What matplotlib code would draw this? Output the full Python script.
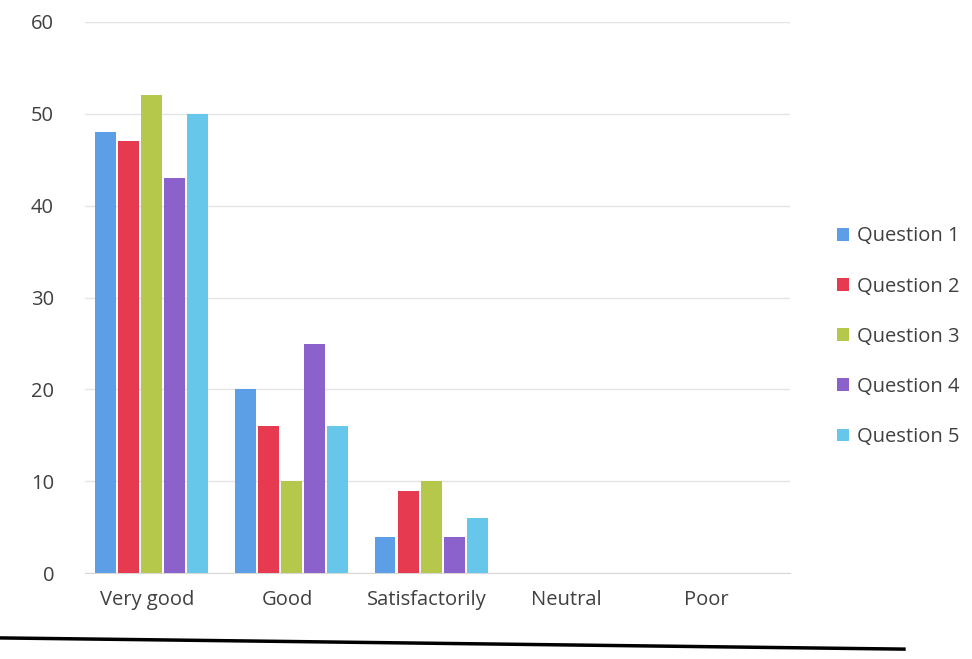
import numpy as np
import matplotlib.pyplot as plt
from matplotlib.lines import Line2D

plt.rcParams['font.family'] = ['Open Sans', 'DejaVu Sans']

categories = ["Very good", "Good", "Satisfactorily", "Neutral", "Poor"]
series = ["Question 1", "Question 2", "Question 3", "Question 4", "Question 5"]
q1 = [48, 20, 4, 0, 0]
q2 = [47, 16, 9, 0, 0]
q3 = [52, 10, 10, 0, 0]
q4 = [43, 25, 4, 0, 0]
q5 = [50, 16, 6, 0, 0]
values = [q1, q2, q3, q4, q5]
colors = ["#5c9fe6", "#e63a50", "#b6c84c", "#8b62cc", "#66c7ea"]

fig = plt.figure(figsize=(9.72, 6.59), dpi=100)
ax = fig.add_axes([0.087, 0.13, 0.726, 0.837])

x = np.arange(len(categories))
w = 0.15
gap = 0.165
for i, (name, vals) in enumerate(zip(series, values)):
    ax.bar(x + (i - 2) * gap + 0.03, vals, width=w, color=colors[i], label=name, zorder=3)

ax.set_ylim(0, 60)
ax.set_xlim(-0.45, 4.6)
ax.set_yticks(range(0, 61, 10))
ax.set_xticks(x)
ax.set_xticklabels(categories)
ax.grid(axis='y', color='#e4e4e4', linewidth=1, zorder=0)
for s in ['top', 'right', 'left']:
    ax.spines[s].set_visible(False)
ax.spines['bottom'].set_color('#d8d8d8')
ax.tick_params(length=0, labelsize=14.5, colors='#404040')
ax.tick_params(axis='y', pad=22)
ax.tick_params(axis='x', pad=12)

ax.legend(loc='center left', bbox_to_anchor=(0.861, 0.489), bbox_transform=fig.transFigure,
          frameon=False, fontsize=14.5, labelcolor='#404040', handlelength=0.6,
          handleheight=0.6, handletextpad=0.4, labelspacing=1.5, borderaxespad=0,
          borderpad=0)

fig.add_artist(Line2D([0.0, 0.93], [0.032, 0.015], color='black', linewidth=2.5))

fig.savefig("out.png", dpi=100)
